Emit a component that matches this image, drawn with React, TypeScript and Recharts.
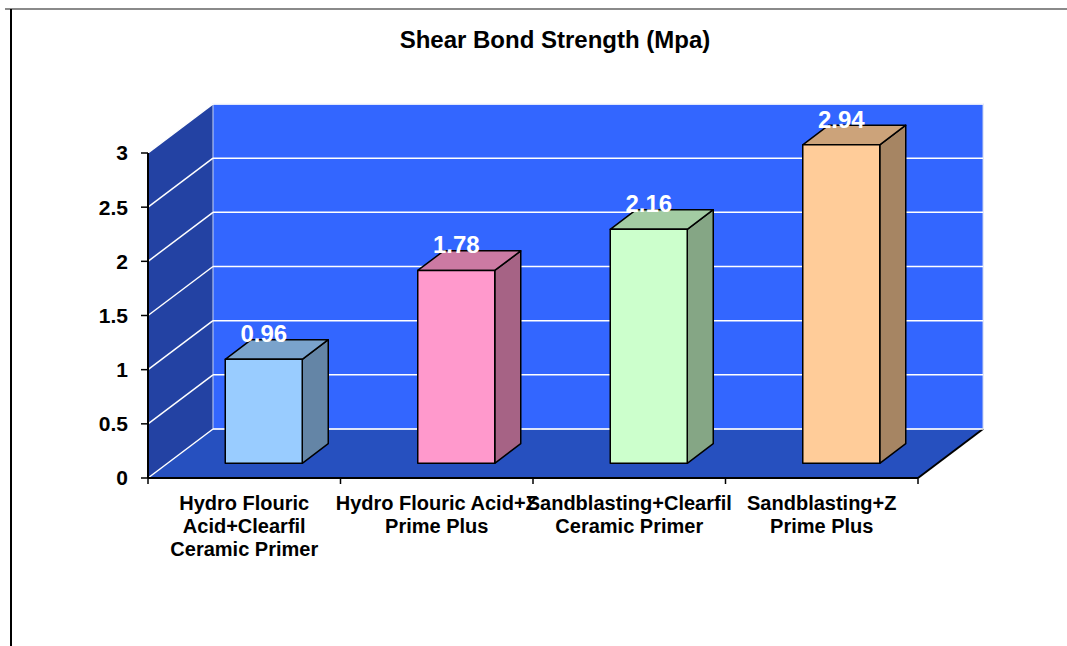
import React from "react";
import { BarChart, Bar, XAxis, YAxis, ReferenceArea, ReferenceLine } from "recharts";

const CATEGORIES = [
  "Hydro Flouric Acid+Clearfil Ceramic Primer",
  "Hydro Flouric Acid+Z Prime Plus",
  "Sandblasting+Clearfil Ceramic Primer",
  "Sandblasting+Z Prime Plus",
];
const CATEGORY_LINES = [
  ["Hydro Flouric", "Acid+Clearfil", "Ceramic Primer"],
  ["Hydro Flouric Acid+Z", "Prime Plus"],
  ["Sandblasting+Clearfil", "Ceramic Primer"],
  ["Sandblasting+Z", "Prime Plus"],
];
const STRENGTH = [0.96, 1.78, 2.16, 2.94];
const Y_TICKS = [0, 0.5, 1, 1.5, 2, 2.5, 3];

const FRONT = ["#99CCFF", "#FF99CC", "#CCFFCC", "#FFCC99"];
const SIDE = ["#6485A6", "#A66385", "#85A685", "#A68563"];
const TOP = ["#7AA3CC", "#CC7AA3", "#A3CCA3", "#CCA37A"];

const data = CATEGORIES.map((name, i) => ({ name, value: STRENGTH[i] }));

const FONT = "'Liberation Sans', Arial, sans-serif";

// depth of the 3d box: full wall offset, and where the bars sit inside it
const DX = 65;
const DY = -49;
const BAR_IN = 0.3;
const BAR_DEPTH = 0.4;

const Walls = (props: any) => {
  const { x, y, width: w, height: h } = props;
  const b = y + h;
  return (
    <g>
      <polygon
        points={`${x},${y} ${x + DX},${y + DY} ${x + DX},${b + DY} ${x},${b}`}
        fill="#2342A3"
      />
      <polygon
        points={`${x},${b} ${x + DX},${b + DY} ${x + w + DX},${b + DY} ${x + w},${b}`}
        fill="#2650BF"
      />
      <rect x={x + DX} y={y + DY} width={w} height={h} fill="#3366FF" stroke="#C8D2F0" strokeWidth={1} />
      <line x1={x + w} y1={b} x2={x + w + DX} y2={b + DY} stroke="#000" strokeWidth={2} />
    </g>
  );
};

const GridLine = (props: any) => {
  const { x1, y1, x2 } = props;
  return (
    <g>
      <line x1={x1 + DX} y1={y1 + DY} x2={x2 + DX} y2={y1 + DY} stroke="#fff" strokeWidth={1.5} />
      <line x1={x1} y1={y1} x2={x1 + DX} y2={y1 + DY} stroke="#fff" strokeWidth={1.5} />
    </g>
  );
};

const Box = (props: any) => {
  const { x, y, width: w, height: h, index } = props;
  const fx = x + DX * BAR_IN;
  const fy = y + DY * BAR_IN;
  const ddx = DX * BAR_DEPTH;
  const ddy = DY * BAR_DEPTH;
  const b = fy + h;
  return (
    <g stroke="#000" strokeWidth={1.5} strokeLinejoin="round">
      <polygon
        points={`${fx + w},${fy} ${fx + w + ddx},${fy + ddy} ${fx + w + ddx},${b + ddy} ${fx + w},${b}`}
        fill={SIDE[index]}
      />
      <polygon
        points={`${fx},${fy} ${fx + ddx},${fy + ddy} ${fx + w + ddx},${fy + ddy} ${fx + w},${fy}`}
        fill={TOP[index]}
      />
      <rect x={fx} y={fy} width={w} height={h} fill={FRONT[index]} />
    </g>
  );
};

const ValueLabel = (props: any) => {
  const { x, y, width, value } = props;
  return (
    <text
      x={x + width / 2 + DX * BAR_IN}
      y={y + DY * BAR_IN - 17}
      textAnchor="middle"
      fill="#fff"
      fontSize={24}
      fontWeight={700}
      fontFamily={FONT}
    >
      {value}
    </text>
  );
};

const CategoryTick = (props: any) => {
  const { x, y, payload, index, width, visibleTicksCount } = props;
  const half = payload.offset || width / visibleTicksCount / 2;
  const lines = CATEGORY_LINES[index] || [payload.value];
  return (
    <g>
      <line x1={x - half} y1={y - 6} x2={x - half} y2={y} stroke="#000" strokeWidth={1.5} />
      {index === visibleTicksCount - 1 && (
        <line x1={x + half} y1={y - 6} x2={x + half} y2={y} stroke="#000" strokeWidth={1.5} />
      )}
      <text textAnchor="middle" fill="#000" fontSize={20} fontWeight={700} fontFamily={FONT}>
        {lines.map((l: string, i: number) => (
          <tspan key={i} x={x} y={y + 26 + i * 23}>
            {l}
          </tspan>
        ))}
      </text>
    </g>
  );
};

export default function App() {
  return (
    <div style={{ position: "absolute", left: 0, top: 0, width: 1067, height: 646, background: "#fff", overflow: "hidden" }}>
      <div style={{ position: "absolute", left: 5, top: 8, width: 1062, height: 2, background: "#8a8a8a" }} />
      <div style={{ position: "absolute", left: 10, top: 9, width: 1.5, height: 637, background: "#000" }} />
      <div
        style={{
          position: "absolute",
          left: 0,
          top: 28,
          width: 1110,
          textAlign: "center",
          fontFamily: FONT,
          fontWeight: 700,
          fontSize: 24,
          lineHeight: "24px",
          color: "#000",
        }}
      >
        Shear Bond Strength (Mpa)
      </div>
      <div style={{ position: "absolute", left: 0, top: 0 }}>
        <BarChart
          width={1067}
          height={646}
          data={data}
          margin={{ top: 153, right: 149, bottom: 0, left: 0 }}
          barCategoryGap="30%"
        >
          <XAxis
            dataKey="name"
            height={168}
            interval={0}
            tickLine={false}
            tickSize={6}
            tickMargin={0}
            axisLine={{ stroke: "#000", strokeWidth: 2 }}
            tick={<CategoryTick />}
          />
          <YAxis
            width={148}
            domain={[0, 3]}
            ticks={Y_TICKS}
            interval={0}
            tickSize={7}
            tickMargin={13}
            tickLine={{ stroke: "#000", strokeWidth: 1.5 }}
            axisLine={{ stroke: "#000", strokeWidth: 2 }}
            tick={{ fill: "#000", fontSize: 21, fontWeight: 700, fontFamily: FONT }}
          />
          <ReferenceArea y1={0} y2={3} shape={<Walls />} fillOpacity={1} zIndex={-90} />
          {Y_TICKS.map((t) => (
            <ReferenceLine key={t} y={t} shape={<GridLine />} zIndex={-80} />
          ))}
          <Bar
            dataKey="value"
            isAnimationActive={false}
            shape={<Box />}
            label={<ValueLabel />}
          />
        </BarChart>
      </div>
    </div>
  );
}
